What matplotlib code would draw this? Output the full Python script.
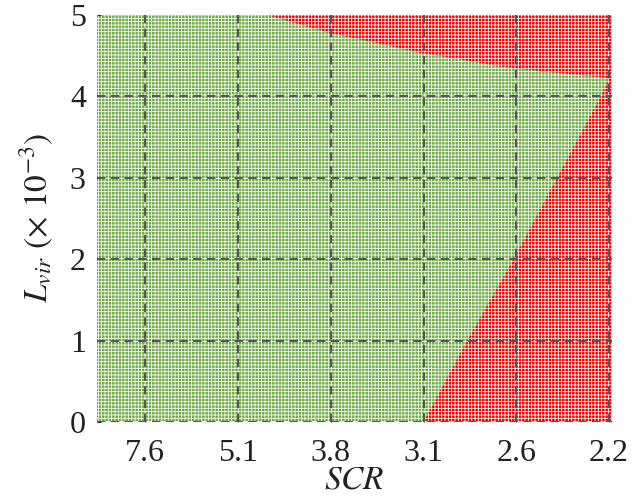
import matplotlib
matplotlib.use('Agg')
import matplotlib.pyplot as plt

# ─── DATA ─────────────────────────────────────────────────────────────────────
scr_labels = ["7.6", "5.1", "3.8", "3.1", "2.6", "2.2"]
x_pos = [1, 2, 3, 4, 5, 6]
y_ticks = [0, 1, 2, 3, 4, 5]

# upper stability border (x position, L_vir x1e-3)
upper_x = [2.32, 2.99, 3.56, 3.99, 4.28, 4.82, 5.35, 5.89, 6.0]
upper_y = [5.0, 4.78, 4.64, 4.53, 4.48, 4.37, 4.30, 4.24, 4.22]
# lower stability border
lower_x = [4.0, 4.47, 4.97, 5.44, 5.91, 6.0]
lower_y = [0.0, 1.0, 2.0, 3.0, 4.0, 4.22]

X_MIN, X_MAX = 0.48, 6.03
Y_MIN, Y_MAX = 0, 5

GREEN = "#70AD47"
RED = "#FF0000"

# ─── STYLE ────────────────────────────────────────────────────────────────────
plt.rcParams['font.family'] = ['Liberation Serif', 'DejaVu Serif']
plt.rcParams['mathtext.fontset'] = 'stix'
plt.rcParams['hatch.linewidth'] = 0.55

fig = plt.figure(figsize=(6.34, 5.03), dpi=100)
ax = fig.add_axes([0.153, 0.161, 0.812, 0.809])

# unstable background
ax.fill([X_MIN, X_MAX, X_MAX, X_MIN], [Y_MIN, Y_MIN, Y_MAX, Y_MAX],
        facecolor=RED, edgecolor='white', hatch='+++++', linewidth=0, zorder=1)

# stable region polygon
gx = [X_MIN] + lower_x + upper_x[::-1][1:] + [X_MIN]
gy = [Y_MIN] + lower_y + upper_y[::-1][1:] + [Y_MAX]
ax.fill(gx, gy, facecolor=GREEN, edgecolor='white', hatch='+++++',
        linewidth=0, zorder=1.5)

# dashed grid on top
for xv in x_pos:
    ax.axvline(xv, color='#555555', lw=1.5, ls=(0, (4, 2.6)), zorder=3)
for yv in y_ticks[:-1]:
    ax.axhline(yv, color='#555555', lw=1.5, ls=(0, (4, 2.6)), zorder=3)

ax.set_xlim(X_MIN, X_MAX)
ax.set_ylim(Y_MIN, Y_MAX)
ax.set_xticks(x_pos)
ax.set_xticklabels(scr_labels)
ax.set_yticks(y_ticks)
ax.tick_params(direction='in', length=3, width=0.8, colors='#333333',
               labelsize=23, labelcolor='#222222')
ax.tick_params(axis='x', pad=12)
ax.tick_params(axis='y', pad=8)
for s in ax.spines.values():
    s.set_visible(False)

ax.set_xlabel(r"$SCR$", fontsize=24, labelpad=-2, color='#222222')
ax.set_ylabel(r"$L_{vir}$ $(\times\ 10^{-3})$", fontsize=24, labelpad=10,
              color='#222222')

fig.savefig("out.png", dpi=100)
